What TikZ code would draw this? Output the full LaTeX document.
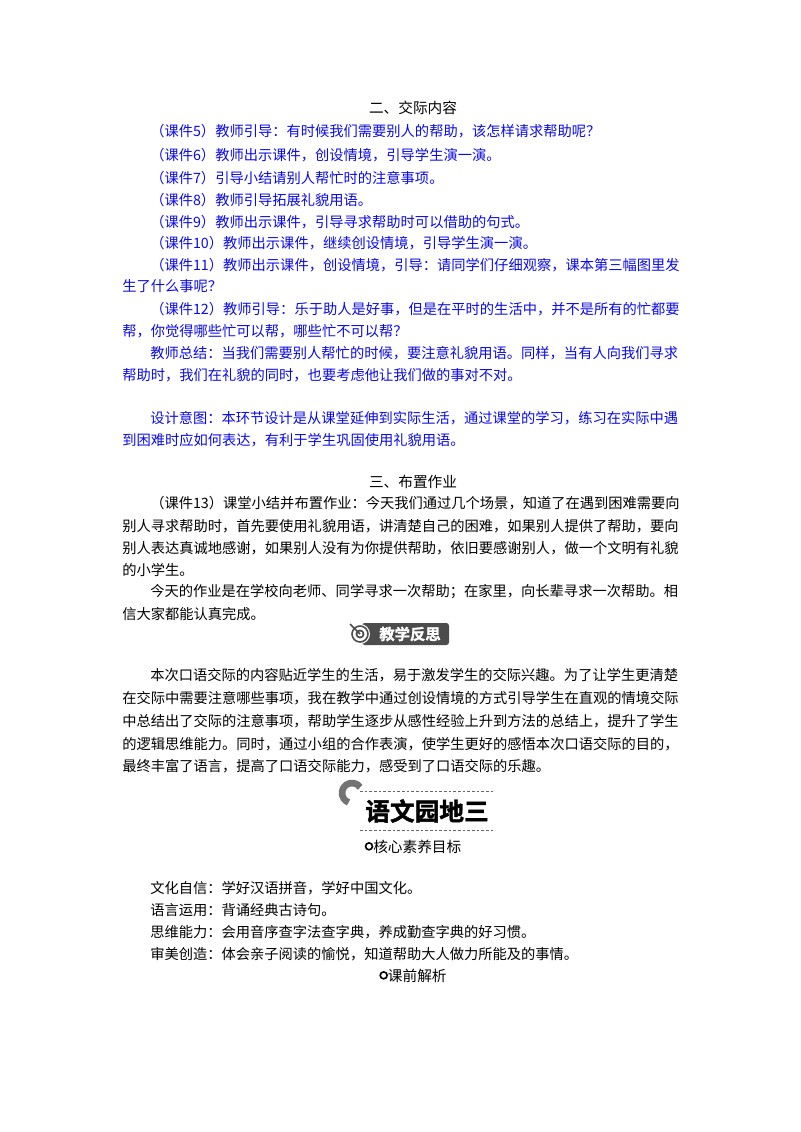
\documentclass[tikz,border=0pt]{standalone}
\usepackage{fontspec}
\setmainfont{Noto Sans CJK SC}
\newfontfamily\cjkb[FakeBold=1.5]{Noto Sans CJK SC Bold}
\definecolor{tblue}{RGB}{10,10,230}
\newcommand{\ringmark}{\raisebox{0.25ex}{\tikz[x=1pt,y=1pt]\draw[line width=1.2pt] (0,0) circle (2.6pt);}}
\begin{document}
\begin{tikzpicture}[x=0.75pt,y=-0.75pt,
 ln/.style={anchor=west,inner sep=0pt,font=\fontsize{10.7pt}{12pt}\selectfont},
 bl/.style={ln,text=tblue},
 ctr/.style={inner sep=0pt,font=\fontsize{11pt}{12pt}\selectfont}]
\useasboundingbox (0,0) rectangle (800,1132);
\node[ctr] (h1) at (413,108) {二、交际内容};
\node[bl] (a1) at (150,131) {（课件5）教师引导：有时候我们需要别人的帮助，该怎样请求帮助呢？};
\node[bl] (a2) at (150,155) {（课件6）教师出示课件，创设情境，引导学生演一演。};
\node[bl] (a3) at (150,178) {（课件7）引导小结请别人帮忙时的注意事项。};
\node[bl] (a4) at (150,200) {（课件8）教师引导拓展礼貌用语。};
\node[bl] (a5) at (150,222) {（课件9）教师出示课件，引导寻求帮助时可以借助的句式。};
\node[bl] (a6) at (150,243) {（课件10）教师出示课件，继续创设情境，引导学生演一演。};
\node[bl] (a7) at (150,265) {（课件11）教师出示课件，创设情境，引导：请同学们仔细观察，课本第三幅图里发};
\node[bl] (a8) at (122,286) {生了什么事呢？};
\node[bl] (a9) at (150,309) {（课件12）教师引导：乐于助人是好事，但是在平时的生活中，并不是所有的忙都要};
\node[bl] (a10) at (122,331) {帮，你觉得哪些忙可以帮，哪些忙不可以帮？};
\node[bl] (a11) at (150,353) {教师总结：当我们需要别人帮忙的时候，要注意礼貌用语。同样，当有人向我们寻求};
\node[bl] (a12) at (122,375) {帮助时，我们在礼貌的同时，也要考虑他让我们做的事对不对。};
\node[bl] (a13) at (150,418) {设计意图：本环节设计是从课堂延伸到实际生活，通过课堂的学习，练习在实际中遇};
\node[bl] (a14) at (122,440) {到困难时应如何表达，有利于学生巩固使用礼貌用语。};
\node[ctr] (h2) at (413,482) {三、布置作业};
\node[ln] (b1) at (150,503) {（课件13）课堂小结并布置作业：今天我们通过几个场景，知道了在遇到困难需要向};
\node[ln] (b2) at (122,526) {别人寻求帮助时，首先要使用礼貌用语，讲清楚自己的困难，如果别人提供了帮助，要向};
\node[ln] (b3) at (122,548) {别人表达真诚地感谢，如果别人没有为你提供帮助，依旧要感谢别人，做一个文明有礼貌};
\node[ln] (b4) at (122,570) {的小学生。};
\node[ln] (b5) at (150,592) {今天的作业是在学校向老师、同学寻求一次帮助；在家里，向长辈寻求一次帮助。相};
\node[ln] (b6) at (122,614) {信大家都能认真完成。};
% badge
\fill[black!70,rounded corners=2pt] (362,623) rectangle (449,645);
\fill[white] (360,634) circle (10);
\draw[black!70,line width=1.2pt] (360,634) circle (8);
\fill[black!70] (360,634) circle (4.5);
\fill[white] (360,634) circle (2.5);
\draw[black!70,line width=1.2pt] (360,634) -- (350,624);
\node[inner sep=0pt,text=white,font=\cjkb\fontsize{11.5pt}{12pt}\selectfont] (badge) at (410,634) {教学反思};
\node[ln] (c1) at (150,675) {本次口语交际的内容贴近学生的生活，易于激发学生的交际兴趣。为了让学生更清楚};
\node[ln] (c2) at (122,698) {在交际中需要注意哪些事项，我在教学中通过创设情境的方式引导学生在直观的情境交际};
\node[ln] (c3) at (122,721) {中总结出了交际的注意事项，帮助学生逐步从感性经验上升到方法的总结上，提升了学生};
\node[ln] (c4) at (122,744) {的逻辑思维能力。同时，通过小组的合作表演，使学生更好的感悟本次口语交际的目的，};
\node[ln] (c5) at (122,766) {最终丰富了语言，提高了口语交际能力，感受到了口语交际的乐趣。};
% heading
\draw[black!55,line width=5pt] (352,793) ++(-35:10) arc (-35:-250:10);
\draw[black!60,dash pattern=on 2pt off 1.5pt] (360,791) -- (493,791);
\draw[black!60,dash pattern=on 2pt off 1.5pt] (360,830) -- (493,830);
\node[inner sep=0pt,font=\cjkb\fontsize{18.5pt}{20pt}\selectfont] (yw) at (427,811) {语文园地三};
\node[ctr] (g1) at (413,847) {\ringmark 核心素养目标};
\node[ln] (d1) at (150,888) {文化自信：学好汉语拼音，学好中国文化。};
\node[ln] (d2) at (150,910) {语言运用：背诵经典古诗句。};
\node[ln] (d3) at (150,932) {思维能力：会用音序查字法查字典，养成勤查字典的好习惯。};
\node[ln] (d4) at (150,954) {审美创造：体会亲子阅读的愉悦，知道帮助大人做力所能及的事情。};
\node[ctr] (g2) at (413,976) {\ringmark 课前解析};
\end{tikzpicture}
\end{document}
